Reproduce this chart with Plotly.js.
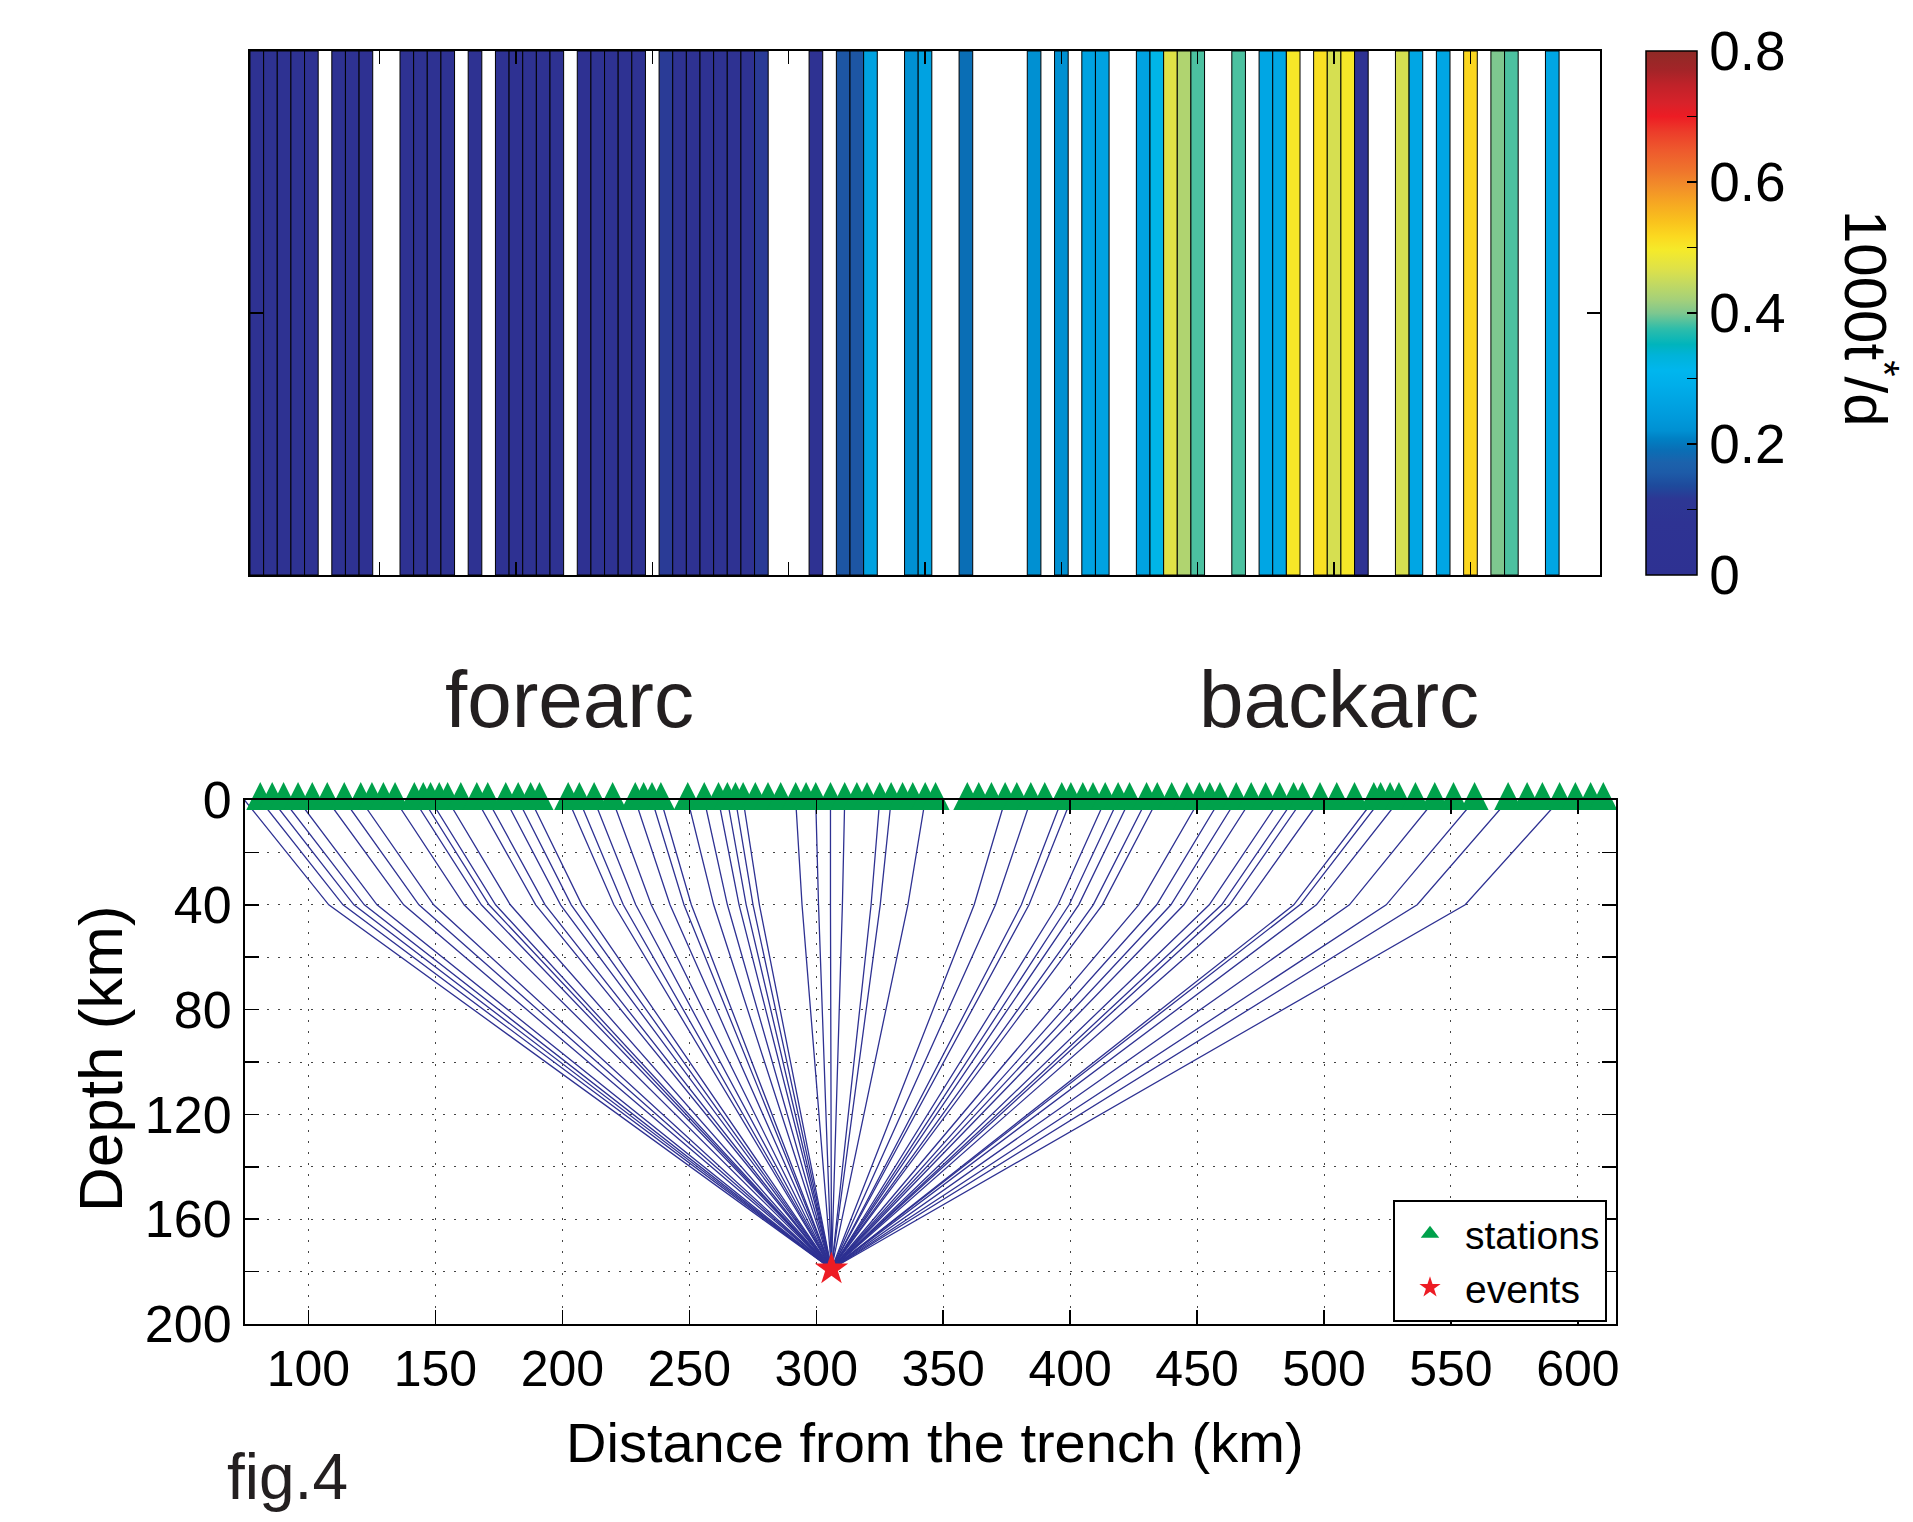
<!DOCTYPE html>
<html>
<head>
<meta charset="utf-8">
<script src="https://cdn.plot.ly/plotly-3.0.1.min.js"></script>
<style>
html,body{margin:0;padding:0;background:#ffffff;}
#plot{width:1913px;height:1522px;}
</style>
</head>
<body>
<div id="plot"></div>
<script>
// ---------------- DATA ----------------
// Station distance from the trench (km), sorted; one entry per column of the top panel
const stationKm = [
  74.8, 81.0, 85.7, 90.2, 95.9, 101.5, 107.4, 114.1, 120.6, 125.0,
  129.5, 134.1, 141.7, 145.2, 148.1, 151.5, 154.8, 160.0, 166.3, 170.6,
  177.7, 182.6, 187.5, 191.0, 202.3, 206.7, 212.5, 219.8, 228.7, 232.0,
  235.3, 238.8, 249.4, 255.9, 261.5, 265.0, 268.2, 271.2, 276.0, 281.0,
  286.0, 291.9, 296.0, 299.8, 305.6, 311.2, 316.0, 320.0, 325.0, 329.5,
  334.0, 338.0, 342.9, 347.0, 359.5, 364.0, 369.0, 374.4, 379.0, 384.5,
  390.0, 396.7, 400.3, 405.0, 409.0, 413.8, 418.9, 423.4, 430.1, 434.3,
  440.0, 446.0, 450.9, 455.0, 459.0, 465.4, 471.3, 477.0, 482.5, 488.0,
  491.5, 498.4, 505.0, 512.0, 519.6, 522.3, 526.0, 529.5, 536.0, 543.6,
  551.0, 559.3, 572.5, 580.0, 586.0, 592.8, 599.0, 605.0, 610.0
];

// 1000 t*/d per station (null = no measurement)
const tStarQ = [
  0.02, 0.02, 0.02, 0.02, 0.02, null, 0.02, 0.02, 0.01, null,
  null, 0.02, 0.02, 0.02, 0.02, null, 0.02, null, 0.02, 0.00,
  0.02, 0.02, 0.02, null, 0.01, 0.02, 0.02, 0.02, 0.02, null,
  0.12, 0.02, 0.02, 0.02, 0.02, 0.02, 0.02, 0.12, null, null,
  null, 0.03, null, 0.15, 0.15, 0.26, null, null, 0.22, 0.26,
  null, null, 0.19, null, null, null, null, 0.22, null, 0.22,
  null, 0.26, 0.26, null, null, 0.26, 0.32, 0.47, 0.43, 0.385,
  null, null, 0.385, null, 0.27, 0.27, 0.50, null, 0.51, 0.46,
  0.50, 0.03, null, null, 0.46, 0.27, null, 0.27, null, 0.52,
  null, 0.40, 0.385, null, null, 0.27, null, null, null
];

// Horizontal position (km) where each ray crosses the 40 km interface (null = no ray)
const kinkKm = [
  108.0, 113.6, 117.9, 122.0, 127.0, null, 137.5, 143.5, 149.3, null,
  null, 161.3, 168.1, 171.1, 173.7, null, 179.5, null, 189.5, 193.2,
  199.3, 203.5, 207.7, null, 220.3, 224.0, 228.9, 235.0, 242.4, null,
  247.9, 250.8, 259.6, 265.0, 269.6, 272.4, 275.1, 277.6, null, null,
  null, 294.4, null, 300.9, 305.6, 310.3, null, null, 321.6, 325.2,
  null, null, 336.1, null, null, null, null, 362.2, null, 370.6,
  null, 380.8, 383.8, null, null, 395.2, 399.6, 403.4, 409.1, 412.7,
  null, null, 427.0, null, 434.1, 439.7, 444.8, null, 454.8, 459.7,
  462.8, 468.9, null, null, 488.1, 490.5, null, 497.0, null, 510.0,
  null, 524.5, 536.7, null, null, 555.6, null, null, null
];

const interfaceDepth = 40;      // km
const eventKm = [306];          // km from trench
const eventDepth = [179];       // km
const stationDepth = 0;

const xTickVals = [100, 150, 200, 250, 300, 350, 400, 450, 500, 550, 600];
const cbTickVals = [0, 0.1, 0.2, 0.3, 0.4, 0.5, 0.6, 0.7, 0.8];
const cbTickText = ['0', '', '0.2', '', '0.4', '', '0.6', '', '0.8'];

// colour map (fraction of 0..0.8 range, colour)
const cmapPos = [0, 0.10, 0.145, 0.17, 0.195, 0.215, 0.238, 0.26, 0.275, 0.30, 0.3625, 0.39, 0.42, 0.44, 0.47, 0.50, 0.525, 0.555, 0.5825, 0.62, 0.646, 0.675, 0.71, 0.74, 0.775, 0.81, 0.845, 0.875, 0.90, 0.936, 0.9625, 1];
const cmapCol = ['#2E3192', '#2E3393', '#2D3794', '#1E4A9C', '#1D5BA8', '#1B62AC', '#0A6EB5', '#0080C4', '#0090D2', '#009ADB', '#00AEEA', '#00B6EE', '#00B3D8', '#00B4BC', '#2EBDAA', '#7EC78F', '#A4D07A', '#C2D962', '#DDE14A', '#F5EA2A', '#FBD920', '#F9C21D', '#F6A722', '#F28F29', '#EF722C', '#EE5A2D', '#EC3D2A', '#ED1C24', '#D8222A', '#BF2229', '#A42428', '#8E2A26'];

// ---------------- BUILD ----------------
const W = 1913, H = 1522;
const FONT = 'Liberation Sans, Arial, Helvetica, sans-serif';
const colorscale = cmapPos.map((p, i) => [p, cmapCol[i]]);

const colIndex = stationKm.map((_, i) => i + 1);
const barHeights = tStarQ.map(v => (v === null ? null : 1));

const rayX = [], rayY = [];
for (let i = 0; i < stationKm.length; i++) {
  if (kinkKm[i] === null) continue;
  rayX.push(stationKm[i], kinkKm[i], eventKm[0], null);
  rayY.push(stationDepth, interfaceDepth, eventDepth[0], null);
}

const traces = [
  {
    type: 'bar', x: colIndex, y: barHeights, width: 1,
    xaxis: 'x', yaxis: 'y', showlegend: false, hoverinfo: 'x',
    marker: {
      color: tStarQ, cmin: 0, cmax: 0.8, colorscale: colorscale,
      line: {color: '#000000', width: 1},
      showscale: true,
      colorbar: {
        x: 1646 / W, xanchor: 'left', y: 1 - 313 / H, yanchor: 'middle',
        len: 524, lenmode: 'pixels', thickness: 51, thicknessmode: 'pixels',
        xpad: 0, ypad: 0, outlinecolor: '#000000', outlinewidth: 1.5,
        tickvals: cbTickVals, ticktext: cbTickText, ticks: 'inside', ticklen: 10,
        tickwidth: 1.5, tickcolor: '#000000',
        tickfont: {family: FONT, size: 55, color: '#000000'}
      }
    }
  },
  {
    type: 'scatter', mode: 'lines', x: rayX, y: rayY, xaxis: 'x2', yaxis: 'y2',
    line: {color: '#2E3192', width: 1.3}, showlegend: false, hoverinfo: 'skip',
    connectgaps: false
  },
  {
    type: 'scatter', mode: 'markers', name: 'stations', legendgroup: 'stations', showlegend: false,
    x: stationKm, y: stationKm.map(() => stationDepth), xaxis: 'x2', yaxis: 'y2',
    marker: {symbol: 'arrow-down', angle: 180, size: 28, standoff: 18, color: '#00A14B', line: {width: 0}},
    cliponaxis: false
  },
  {
    // legend entry for the stations (same style, without the vertical standoff)
    type: 'scatter', mode: 'markers', name: 'stations', legendgroup: 'stations', showlegend: true,
    x: [null], y: [null], xaxis: 'x2', yaxis: 'y2',
    marker: {symbol: 'triangle-up', size: 28, color: '#00A14B', line: {width: 0}}
  },
  {
    type: 'scatter', mode: 'markers', name: 'events',
    x: eventKm, y: eventDepth, xaxis: 'x2', yaxis: 'y2',
    marker: {symbol: 'star', size: 25, color: '#ED1C24'}, cliponaxis: false
  }
];

const axisCommon = {
  showline: true, linecolor: '#000000', linewidth: 2, mirror: 'ticks',
  ticks: 'inside', tickcolor: '#000000', tickwidth: 1.5, zeroline: false
};

const gridStyle = {showgrid: true, gridcolor: '#444444', gridwidth: 1, griddash: '2px,9px'};

const layout = {
  width: W, height: H,
  margin: {l: 0, r: 0, t: 0, b: 0, pad: 0},
  paper_bgcolor: '#ffffff', plot_bgcolor: '#ffffff',
  font: {family: FONT, color: '#000000'},
  bargap: 0,
  showlegend: true,
  xaxis: Object.assign({}, axisCommon, {
    domain: [250 / W, 1600 / W], range: [0.5, 99.5],
    tickvals: [10, 20, 30, 40, 50, 60, 70, 80, 90], ticklen: 13,
    showticklabels: false, showgrid: false, anchor: 'y'
  }),
  yaxis: Object.assign({}, axisCommon, {
    domain: [1 - 575 / H, 1 - 51 / H], range: [0, 1],
    tickvals: [0.5], ticklen: 13, showticklabels: false, showgrid: false, anchor: 'x'
  }),
  xaxis2: Object.assign({}, axisCommon, gridStyle, {
    domain: [245 / W, 1616 / W], range: [75, 615], anchor: 'y2',
    tickvals: xTickVals, ticklen: 14, ticklabelstandoff: 0,
    tickfont: {family: FONT, size: 50, color: '#000000'}
  }),
  yaxis2: Object.assign({}, axisCommon, gridStyle, {
    domain: [1 - 1324 / H, 1 - 800 / H], range: [200, 0], anchor: 'x2',
    tick0: 0, dtick: 40, ticklen: 14, ticklabelstandoff: 1,
    tickfont: {family: FONT, size: 52, color: '#000000'},
    minor: {tick0: 0, dtick: 20, ticks: 'inside', ticklen: 14, tickwidth: 1.5, tickcolor: '#000000',
            showgrid: true, gridcolor: '#444444', gridwidth: 1, griddash: '2px,9px'}
  }),
  legend: {
    x: 1607 / W, xanchor: 'right', y: 1 - 1200 / H, yanchor: 'top',
    bgcolor: '#ffffff', bordercolor: '#000000', borderwidth: 2,
    font: {family: FONT, size: 39, color: '#000000'},
    itemwidth: 60, tracegroupgap: 0, traceorder: 'normal'
  },
  annotations: [
    {text: 'forearc', xref: 'paper', yref: 'paper', x: 569 / W, y: 1 - 700 / H,
     xanchor: 'center', yanchor: 'middle', showarrow: false,
     font: {family: FONT, size: 80, color: '#231F20'}},
    {text: 'backarc', xref: 'paper', yref: 'paper', x: 1339 / W, y: 1 - 700 / H,
     xanchor: 'center', yanchor: 'middle', showarrow: false,
     font: {family: FONT, size: 80, color: '#231F20'}},
    {text: 'Distance from the trench (km)', xref: 'paper', yref: 'paper', x: 935 / W, y: 1 - 1442 / H,
     xanchor: 'center', yanchor: 'middle', showarrow: false,
     font: {family: FONT, size: 56, color: '#000000'}},
    {text: 'Depth (km)', xref: 'paper', yref: 'paper', x: 100 / W, y: 1 - 1059 / H,
     xanchor: 'center', yanchor: 'middle', showarrow: false, textangle: -90,
     font: {family: FONT, size: 62, color: '#000000'}},
    {text: '1000t<sup>*</sup>/d', xref: 'paper', yref: 'paper', x: 1870 / W, y: 1 - 318 / H,
     xanchor: 'center', yanchor: 'middle', showarrow: false, textangle: 90,
     font: {family: FONT, size: 60, color: '#000000'}},
    {text: 'fig.4', xref: 'paper', yref: 'paper', x: 287 / W, y: 1 - 1477 / H,
     xanchor: 'center', yanchor: 'middle', showarrow: false,
     font: {family: FONT, size: 64, color: '#231F20'}}
  ]
};

Plotly.newPlot('plot', traces, layout, {displayModeBar: false, staticPlot: true});
</script>
</body>
</html>
